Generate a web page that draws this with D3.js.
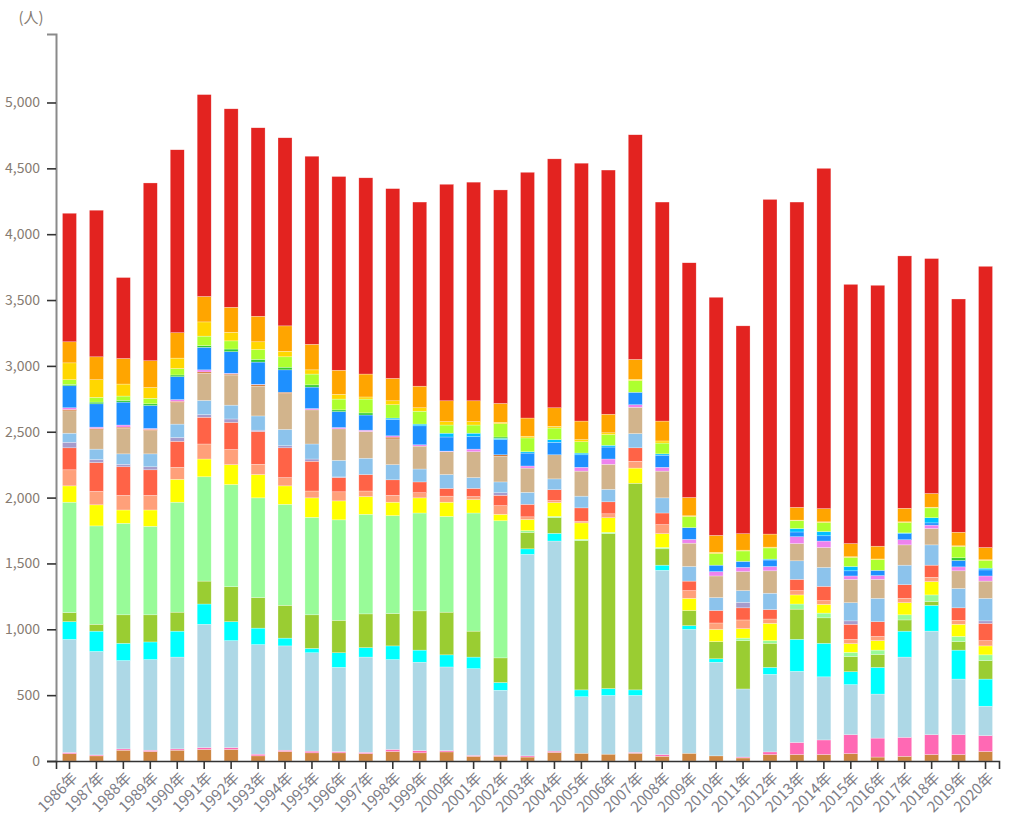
<!DOCTYPE html>
<html>
<head>
<meta charset="utf-8">
<script src="https://cdn.jsdelivr.net/npm/d3@7"></script>
<style>
	body{margin:0;background:#fff;}
	svg text{font-family:"Noto Sans CJK JP","Noto Sans",sans-serif;}
</style>
</head>
<body>
<svg class="barChart" width="1011" height="817"></svg>
<script>

var years = ['1986','1987','1988','1989','1990','1991','1992','1993','1994','1995','1996','1997','1998','1999','2000','2001','2002','2003','2004','2005','2006','2007','2008','2009','2010','2011','2012','2013','2014','2015','2016','2017','2018','2019','2020'];

// series, bottom to top
var s01 = [55,39,82,72,82,88,88,39,72,62,62,56,72,62,69,36,36,30,66,59,52,59,36,59,39,23,49,49,49,56,30,36,49,49,72];
var s02 = [10,7,10,10,10,14,14,13,10,13,10,10,16,17,10,7,7,9,9,0,0,7,13,0,0,7,20,92,111,144,144,144,151,151,121];
var s03 = [858,786,671,688,697,936,812,832,792,747,639,723,682,671,635,658,494,1530,1595,429,446,432,1399,940,711,517,589,540,479,380,334,609,786,422,223];
var s04 = [135,154,131,134,197,154,144,125,59,33,111,72,104,92,92,88,59,42,59,52,52,42,39,29,26,0,53,243,255,98,203,197,196,220,206];
var s05 = [69,52,216,206,144,174,265,232,249,255,246,256,246,298,324,197,187,125,118,1134,1176,1569,124,115,131,367,183,229,193,115,98,85,30,65,141];
var s06 = [838,747,695,672,835,792,776,757,767,740,763,756,743,743,727,897,1041,13,10,9,10,0,10,0,0,19,20,39,36,32,33,39,49,39,43];
var s07 = [124,160,101,124,174,135,151,177,140,148,144,135,102,115,108,102,49,85,105,125,111,115,105,92,92,72,131,69,66,66,72,92,101,92,68];
var s08 = [122,102,111,111,91,114,115,78,63,52,69,42,52,39,46,23,66,20,16,13,30,52,69,59,49,66,33,33,29,33,32,33,33,30,40];
var s09 = [167,219,217,194,197,203,206,249,226,226,108,125,118,82,59,62,78,95,82,101,91,102,88,72,95,92,72,85,108,114,112,104,92,95,131];
var s10 = [42,23,19,23,29,20,26,10,16,17,5,0,0,0,0,0,20,0,0,0,0,0,0,0,0,42,0,0,0,26,0,0,0,0,19];
var s11 = [69,79,79,98,102,108,105,108,124,114,126,124,115,98,105,82,82,91,82,89,95,108,115,111,98,89,124,141,144,138,177,148,154,147,171];
var s12 = [170,147,193,177,163,206,229,226,272,259,239,203,196,174,173,196,196,184,183,190,190,200,203,177,164,144,170,131,151,177,144,154,124,134,131];
var s13 = [10,10,10,9,10,10,7,10,10,0,0,0,13,0,0,0,10,0,0,0,0,0,0,0,0,0,0,0,0,0,0,0,0,0,0];
var s14 = [13,10,16,7,13,16,6,4,0,10,10,10,10,10,5,20,0,16,0,29,40,19,29,29,33,32,33,52,49,26,29,39,26,30,39];
var s15 = [167,177,174,174,174,171,164,169,170,163,121,115,125,144,107,95,115,98,95,95,91,95,92,89,49,46,49,36,40,39,40,46,17,49,46];
var s16 = [0,0,0,0,0,0,0,0,0,0,0,0,10,13,29,26,10,10,20,13,13,0,10,0,0,0,7,26,32,33,0,6,39,0,13];
var s17 = [10,13,13,13,13,13,20,20,20,17,13,16,0,0,0,0,10,0,0,0,0,0,0,0,0,0,0,0,0,0,0,0,0,20,0];
var s18 = [36,36,33,42,49,72,62,75,79,82,82,105,101,98,62,62,101,105,88,86,82,89,82,85,88,79,85,59,69,69,81,79,75,86,59];
var s19 = [128,134,91,82,79,108,65,59,42,32,36,16,30,26,26,26,10,13,13,16,13,9,16,5,10,6,6,5,5,5,5,5,5,5,5];
var s20 = [160,174,194,203,193,193,190,194,193,194,183,174,170,164,158,158,144,138,141,141,141,151,151,139,128,125,99,97,100,100,97,103,104,103,93];
var s21 = [976,1113,615,1350,1389,1533,1507,1431,1428,1428,1471,1490,1441,1398,1644,1660,1621,1866,1890,1958,1854,1706,1663,1782,1808,1578,2541,2318,2584,1968,1981,1916,1784,1771,2135];

var yTicks = [0,500,1000,1500,2000,2500,3000,3500,4000,4500,5000];

var seriesList = [s01,s02,s03,s04,s05,s06,s07,s08,s09,s10,s11,s12,s13,s14,s15,s16,s17,s18,s19,s20,s21];
var keys = seriesList.map((s,i)=>'s'+(i+1));

var colors = ['#cd853f','#ff69b4','#add8e6','#00ffff','#9acd32','#98fb98','#ffff00','#ffa07a','#ff6347','#a69ccc',
			'#8cc3ec','#d2b48c','#d2691e','#ee82ee','#1e90ff','#00bfff','#32cd32','#adff2f','#ffd700','#ffa500','#e32320'];

var config = {
	left:56,
	right:999,
	top:34,
	bottom:761
};

var table = years.map(function(y,i){
	var row = {year:y};
	keys.forEach((k,j)=>{ row[k] = seriesList[j][i]; });
	return row;
});

var stack = d3.stack().keys(keys)(table);

var xScale = d3.scaleBand()
				.domain(years)
				.range([config.left,config.right])
				.paddingInner(0.48)
				.paddingOuter(0.24);

var yScale = d3.scaleLinear()
				.domain([0,5520])
				.range([config.bottom,config.top]);

var colGen = d3.scaleOrdinal(colors).domain(keys);

var chart = d3.select('.barChart');

var layers = chart.append('g')
				.selectAll('g')
				.data(stack)
				.enter()
				.append('g')
				.attr('fill',d=>colGen(d.key));

layers.selectAll('rect')
		.data(d=>d)
		.enter()
		.append('rect')
		.attr('x',d=>xScale(d.data.year))
		.attr('width',xScale.bandwidth())
		.attr('y',d=>yScale(d[1]))
		.attr('height',d=>Math.max(0,yScale(d[0])-yScale(d[1])))
		.attr('stroke','rgba(255,255,255,0.55)')
		.attr('stroke-width',0.5);

//y axis
var yAxis = chart.append('g')
				.attr('transform','translate('+config.left+',0)')
				.call(d3.axisLeft(yScale).tickValues(yTicks).tickSize(9).tickSizeOuter(9).tickPadding(7).tickFormat(d3.format(',')));

yAxis.select('.domain').attr('stroke','#8a8a8a').attr('stroke-width',2);
yAxis.selectAll('.tick line').attr('stroke','#333').attr('stroke-width',1.6);
yAxis.selectAll('.tick text').attr('fill','#867b72').attr('font-size',14);

//x axis
var xAxis = chart.append('g')
				.attr('transform','translate(0,'+config.bottom+')')
				.call(d3.axisBottom(xScale).tickSize(8).tickSizeOuter(8).tickFormat(d=>d+'年'));

xAxis.select('.domain').attr('stroke','#333').attr('stroke-width',1.6);
xAxis.selectAll('.tick line').attr('stroke','#333').attr('stroke-width',1.6);
xAxis.selectAll('.tick text')
		.attr('fill','#7d7d86')
		.attr('font-size',15)
		.attr('text-anchor','end')
		.attr('x',0)
		.attr('y',0)
		.attr('dy',0)
		.attr('transform','translate(9,18) rotate(-45)');

// unit label
chart.append('text')
	.text('(人)')
	.attr('x',31)
	.attr('y',23)
	.attr('text-anchor','middle')
	.attr('fill','#867b72')
	.attr('font-size',15);

</script>
</body>
</html>
